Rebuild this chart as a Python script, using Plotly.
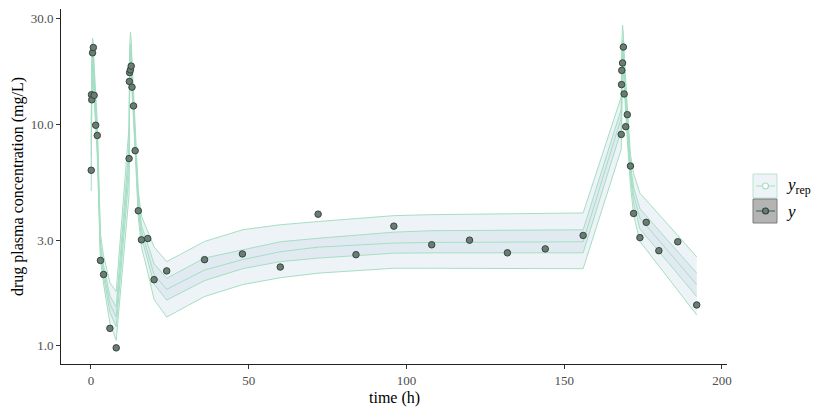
"""Posterior predictive ribbon of drug plasma concentration over time."""

import plotly.graph_objects as go

# observation times (h)
time_h = [
    0.083, 0.167, 0.25, 0.5, 0.75, 1, 1.5, 2, 3, 4, 6, 8,
    12.083, 12.167, 12.25, 12.5, 12.75, 13, 13.5, 14, 15, 16, 18, 20,
    24, 36, 48, 60, 72, 84, 96, 108, 120, 132, 144, 156,
    168.083, 168.167, 168.25, 168.5, 168.75, 169, 169.5, 170, 171, 172, 174, 176, 180, 186, 192,
]

# observed concentrations y (mg/L)
conc_obs = [
    6.2, 13.6, 12.9, 21.0, 22.2, 13.5, 9.9, 8.9, 2.43, 2.10, 1.20, 0.98,
    7.0, 15.6, 17.1, 17.6, 18.3, 14.7, 12.1, 7.6, 4.07, 3.01, 3.05, 1.99,
    2.18, 2.45, 2.60, 2.27, 3.93, 2.58, 3.47, 2.86, 3.00, 2.63, 2.74, 3.15,
    9.0, 15.1, 17.5, 18.9, 22.3, 13.7, 9.75, 11.05, 6.48, 3.96, 3.08, 3.61, 2.69, 2.95, 1.53,
]

# y_rep quantiles: 5%, 25%, 50%, 75%, 95%
rep_lo90 = [
    5.0, 9.5, 12.5, 16.0, 15.5, 13.0, 9.5, 7.2, 2.45, 1.90, 1.27, 1.06,
    4.8, 10.5, 13.5, 17.5, 16.5, 14.0, 10.5, 7.6, 3.80, 2.80, 2.15, 1.62,
    1.35, 1.67, 1.89, 2.03, 2.13, 2.18, 2.24, 2.24, 2.24, 2.23, 2.23, 2.23,
    7.7, 11.0, 14.0, 18.0, 17.0, 14.5, 11.0, 8.5, 5.3, 3.9, 2.96, 2.72, 2.30, 1.78, 1.38,
]
rep_lo50 = [
    6.3, 11.5, 14.5, 18.5, 17.5, 14.5, 10.5, 8.0, 2.62, 2.05, 1.42, 1.22,
    6.0, 12.5, 15.5, 20.0, 18.5, 15.5, 11.3, 8.2, 4.10, 3.10, 2.42, 1.90,
    1.61, 1.97, 2.23, 2.40, 2.49, 2.55, 2.62, 2.63, 2.63, 2.63, 2.63, 2.63,
    9.4, 13.5, 16.5, 20.5, 19.5, 16.5, 12.0, 9.3, 5.8, 4.4, 3.37, 3.11, 2.67, 2.11, 1.67,
]
rep_med = [
    7.2, 12.8, 16.0, 20.0, 19.0, 15.5, 11.2, 8.6, 2.75, 2.17, 1.55, 1.35,
    7.0, 14.0, 17.0, 21.5, 20.0, 16.5, 12.0, 8.8, 4.35, 3.30, 2.62, 2.10,
    1.80, 2.20, 2.45, 2.66, 2.79, 2.86, 2.91, 2.93, 2.94, 2.94, 2.95, 2.95,
    10.7, 15.0, 18.0, 22.0, 21.0, 17.5, 13.0, 10.0, 6.2, 4.8, 3.77, 3.50, 3.00, 2.38, 1.89,
]
rep_hi50 = [
    8.2, 14.2, 17.5, 21.5, 20.5, 16.5, 12.0, 9.2, 2.90, 2.30, 1.68, 1.50,
    8.0, 15.5, 18.5, 23.0, 21.5, 17.5, 12.8, 9.4, 4.60, 3.50, 2.85, 2.35,
    2.02, 2.49, 2.71, 2.95, 3.06, 3.17, 3.26, 3.31, 3.32, 3.33, 3.34, 3.34,
    11.7, 16.5, 19.5, 24.0, 22.5, 18.5, 14.0, 10.8, 6.6, 5.2, 4.16, 3.86, 3.33, 2.66, 2.13,
]
rep_hi90 = [
    10.0, 17.0, 20.5, 24.5, 23.0, 18.5, 13.5, 10.3, 3.20, 2.55, 1.93, 1.76,
    9.8, 18.5, 21.5, 26.0, 24.0, 19.5, 14.0, 10.5, 5.00, 3.85, 3.25, 2.80,
    2.40, 2.96, 3.34, 3.52, 3.64, 3.75, 3.87, 3.91, 3.93, 3.95, 3.97, 3.98,
    13.3, 19.5, 23.0, 28.0, 25.5, 21.0, 15.5, 12.0, 7.3, 6.0, 4.89, 4.55, 3.92, 3.15, 2.52,
]

y_ticks = [1, 3, 10, 30]
y_tick_labels = ["1.0", "3.0", "10.0", "30.0"]
x_ticks = [0, 50, 100, 150, 200]

FONT = "Liberation Serif"
LINE_GREEN = "#a4dfc3"
OUTER_FILL = "#eef3f7"
INNER_FILL = "#e2eaf1"
POINT_FILL = "#6f7a73"
POINT_EDGE = "#2d4a40"

# the page body adds an 8px margin, so the figure is laid out 8px up/left
OFF = 8
W, H = 830, 415
ML, MR, MT, MB = 61 - OFF, 103 + OFF, 9 - OFF, 51 + OFF


def px_x(px):
    return (px - OFF - ML) / (W - ML - MR)


def px_y(py):
    return (H - MB - (py - OFF)) / (H - MT - MB)


fig = go.Figure()

line = dict(color=LINE_GREEN, width=1)
fig.add_trace(go.Scatter(x=time_h, y=rep_hi90, mode="lines", line=line, showlegend=False))
fig.add_trace(go.Scatter(x=time_h, y=rep_lo90, mode="lines", line=line,
                         fill="tonexty", fillcolor=OUTER_FILL, showlegend=False))
fig.add_trace(go.Scatter(x=time_h, y=rep_hi50, mode="lines", line=line, showlegend=False))
fig.add_trace(go.Scatter(x=time_h, y=rep_lo50, mode="lines", line=line,
                         fill="tonexty", fillcolor=INNER_FILL, showlegend=False))
fig.add_trace(go.Scatter(x=time_h, y=rep_med, mode="lines", line=line, showlegend=False))
fig.add_trace(go.Scatter(
    x=time_h, y=conc_obs, mode="markers", showlegend=False,
    marker=dict(size=6.5, color=POINT_FILL, line=dict(color=POINT_EDGE, width=1)),
))

# legend drawn by hand (key boxes with ribbon / point glyphs)
kx0, kx1 = px_x(753), px_x(777)
keys = [
    (174, 198, OUTER_FILL, "#b9e4cf", LINE_GREEN, "white", LINE_GREEN),
    (199, 223, "#b4b4b4", "#7d7d7d", "#3d5a4d", POINT_FILL, POINT_EDGE),
]
for top, bot, fillc, edge, lcol, mfill, medge in keys:
    fig.add_shape(type="rect", xref="paper", yref="paper", x0=kx0, x1=kx1,
                  y0=px_y(bot), y1=px_y(top), fillcolor=fillc, line=dict(color=edge, width=1))
    mid = (top + bot) / 2
    fig.add_shape(type="line", xref="paper", yref="paper", x0=px_x(756), x1=px_x(775),
                  y0=px_y(mid), y1=px_y(mid), line=dict(color=lcol, width=1))
    fig.add_shape(type="circle", xref="paper", yref="paper",
                  xsizemode="pixel", ysizemode="pixel",
                  xanchor=px_x(765.5), yanchor=px_y(mid), x0=-3, x1=3, y0=-3, y1=3,
                  fillcolor=mfill, line=dict(color=medge, width=1.2))

fig.add_annotation(text="<i>y</i><sub>rep</sub>", xref="paper", yref="paper",
                   x=px_x(784), y=px_y(186), xanchor="left", yanchor="middle",
                   showarrow=False, font=dict(family=FONT, size=17, color="black"))
fig.add_annotation(text="<i>y</i>", xref="paper", yref="paper",
                   x=px_x(784), y=px_y(211), xanchor="left", yanchor="middle",
                   showarrow=False, font=dict(family=FONT, size=17, color="black"))

# axis titles
fig.add_annotation(text="time (h)", xref="paper", yref="paper",
                   x=px_x(394), y=px_y(398), xanchor="center", yanchor="middle",
                   showarrow=False, font=dict(family=FONT, size=16, color="black"))
fig.add_annotation(text="drug plasma concentration (mg/L)", xref="paper", yref="paper",
                   x=px_x(18), y=px_y(187), xanchor="center", yanchor="middle", textangle=-90,
                   showarrow=False, font=dict(family=FONT, size=16, color="black"))

axis_common = dict(
    showgrid=False, zeroline=False, showline=True, linecolor="#222", linewidth=1,
    ticks="outside", ticklen=4, tickcolor="#333", tickwidth=1, automargin=False,
    tickfont=dict(family=FONT, size=13, color="#4d4d4d"),
)
fig.update_xaxes(range=[-9.5, 201.6], tickvals=x_ticks, **axis_common)
fig.update_yaxes(type="log", range=[-0.0816, 1.52], tickvals=y_ticks, ticktext=y_tick_labels,
                 **axis_common)

fig.update_layout(
    width=W, height=H,
    margin=dict(l=ML, r=MR, t=MT, b=MB),
    plot_bgcolor="white", paper_bgcolor="white",
    font=dict(family=FONT),
    showlegend=False,
)

fig.write_html("out.html")
